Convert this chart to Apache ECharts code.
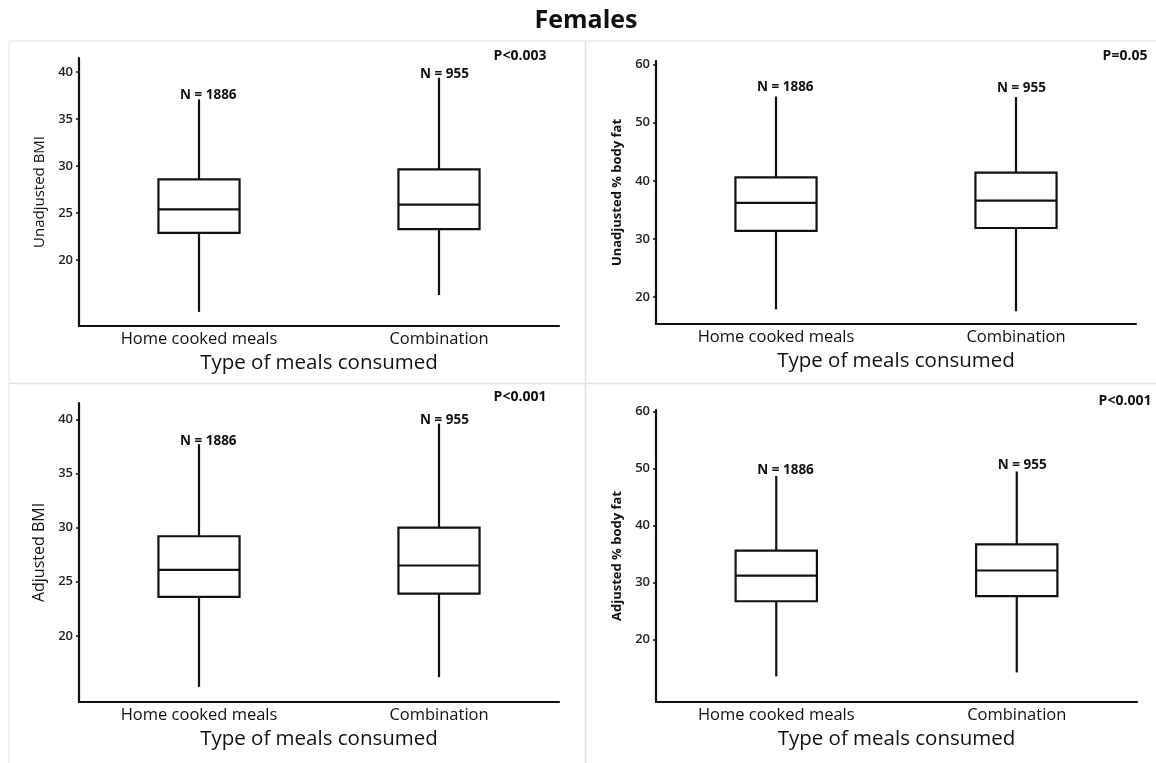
<!DOCTYPE html>
<html>
<head>
<meta charset="utf-8">
<script src="https://cdn.jsdelivr.net/npm/echarts@6/dist/echarts.min.js"></script>
<style>
html,body{margin:0;padding:0;background:#fff;}
#chart{width:1156px;height:763px;}
</style>
</head>
<body>
<div id="chart"></div>
<script>
// ---------- data ----------
const chartTitle = 'Females';
const categories = ['Home cooked meals', 'Combination'];
const xAxisName = 'Type of meals consumed';
const yNames = ['Unadjusted BMI', 'Unadjusted % body fat', 'Adjusted BMI', 'Adjusted % body fat'];
const pValues = ['P<0.003', 'P=0.05', 'P<0.001', 'P<0.001'];
const nLabels = ['N = 1886', 'N = 955'];
const bmiTicks = [20, 25, 30, 35, 40];
const fatTicks = [20, 30, 40, 50, 60];
// [min, Q1, median, Q3, max]
const unadjBmiHome = [14.5, 22.9, 25.4, 28.6, 37.1];
const unadjBmiComb = [16.3, 23.3, 25.9, 29.65, 39.4];
const unadjFatHome = [17.9, 31.4, 36.2, 40.6, 54.5];
const unadjFatComb = [17.6, 31.9, 36.6, 41.4, 54.4];
const adjBmiHome = [15.3, 23.6, 26.1, 29.2, 37.7];
const adjBmiComb = [16.2, 23.9, 26.5, 30.0, 39.6];
const adjFatHome = [13.5, 26.7, 31.2, 35.6, 48.7];
const adjFatComb = [14.2, 27.6, 32.1, 36.7, 49.5];

// ---------- layout / style ----------
const FONT = '"Open Sans", "DejaVu Sans", sans-serif';
const INK = '#111';
const panels = [
  { grid: {left: 79, top: 58, width: 480, height: 268}, min: 13.0, max: 41.5, ticks: bmiTicks,
    stats: [unadjBmiHome, unadjBmiComb], yName: yNames[0], nameBold: false, nameSize: 15, nameGap: 32,
    p: pValues[0], px: 520, py: 56, nDy: 4 },
  { grid: {left: 656, top: 61, width: 480, height: 263}, min: 15.4, max: 60.6, ticks: fatTicks,
    stats: [unadjFatHome, unadjFatComb], yName: yNames[1], nameBold: true, nameSize: 13, nameGap: 32,
    p: pValues[1], px: 1125, py: 56, nDy: 9 },
  { grid: {left: 79, top: 403, width: 480, height: 299}, min: 13.9, max: 41.5, ticks: bmiTicks,
    stats: [adjBmiHome, adjBmiComb], yName: yNames[2], nameBold: false, nameSize: 16, nameGap: 32,
    p: pValues[2], px: 520, py: 397, nDy: 3 },
  { grid: {left: 656, top: 410, width: 481, height: 292}, min: 9.0, max: 60.3, ticks: fatTicks,
    stats: [adjFatHome, adjFatComb], yName: yNames[3], nameBold: true, nameSize: 13, nameGap: 32,
    p: pValues[3], px: 1125, py: 401, nDy: 6 }
];

function makeRender(nDy) {
  return function (params, api) {
    const ci = api.value(0);
    const x = api.coord([ci, api.value(3)])[0];
    const yMin = api.coord([ci, api.value(1)])[1];
    const yQ1 = api.coord([ci, api.value(2)])[1];
    const yMed = api.coord([ci, api.value(3)])[1];
    const yQ3 = api.coord([ci, api.value(4)])[1];
    const yMax = api.coord([ci, api.value(5)])[1];
    const band = api.size([1, 0])[0];
    const hw = band * 0.338 / 2;
    const ls = {stroke: INK, lineWidth: 2.2};
    return {
      type: 'group',
      children: [
        {type: 'line', shape: {x1: x, y1: yQ3, x2: x, y2: yMax}, style: ls},
        {type: 'line', shape: {x1: x, y1: yQ1, x2: x, y2: yMin}, style: ls},
        {type: 'rect', shape: {x: x - hw, y: yQ3, width: hw * 2, height: yQ1 - yQ3},
          style: {fill: '#fff', stroke: INK, lineWidth: 2.2}},
        {type: 'line', shape: {x1: x - hw, y1: yMed, x2: x + hw, y2: yMed}, style: ls},
        {type: 'text', style: {text: nLabels[ci], x: x - 19, y: yMax - nDy,
          align: 'left', verticalAlign: 'middle', font: 'bold 13.5px ' + FONT, fill: INK}}
      ]
    };
  };
}

const grids = [], xAxes = [], yAxes = [], series = [], graphics = [];
panels.forEach((p, i) => {
  grids.push(Object.assign({}, p.grid));
  xAxes.push({
    type: 'category', gridIndex: i, data: categories, boundaryGap: true,
    name: xAxisName, nameLocation: 'middle', nameGap: 27,
    nameTextStyle: {fontFamily: FONT, fontSize: 20.5, fontWeight: 500, color: INK},
    axisLine: {lineStyle: {color: INK, width: 2.2}},
    axisTick: {alignWithLabel: true, length: 4, lineStyle: {color: INK, width: 1.5}},
    axisLabel: {fontFamily: FONT, fontSize: 16.5, fontWeight: 500, color: INK, margin: 5},
    splitLine: {show: false}
  });
  yAxes.push({
    type: 'value', gridIndex: i, min: p.min, max: p.max,
    name: p.yName, nameLocation: 'middle', nameGap: p.nameGap, nameRotate: 90,
    nameTextStyle: {fontFamily: FONT, fontSize: p.nameSize, fontWeight: p.nameBold ? 'bold' : 500, color: INK},
    axisLine: {show: true, lineStyle: {color: INK, width: 2.2}},
    axisTick: {show: true, length: 3, customValues: p.ticks, lineStyle: {color: INK, width: 1.5}},
    axisLabel: {customValues: p.ticks, fontFamily: FONT, fontSize: 13, fontWeight: 600, color: '#222', margin: 6},
    splitLine: {show: false}
  });
  series.push({
    type: 'custom', xAxisIndex: i, yAxisIndex: i,
    renderItem: makeRender(p.nDy),
    encode: {x: 0, y: [1, 2, 3, 4, 5]},
    data: p.stats.map((s, ci) => [ci].concat(s)),
    silent: true
  });
  graphics.push({type: 'text', x: p.px, y: p.py,
    style: {text: p.p, font: 'bold 14px ' + FONT, fill: INK, align: 'center', verticalAlign: 'middle'}});
});

// title
graphics.push({type: 'text', x: 586, y: 21,
  style: {text: chartTitle, font: 'bold 25px ' + FONT, fill: INK, align: 'center', verticalAlign: 'middle'}});

// panel frame lines
const frame = '#e2e2e2';
graphics.push({type: 'line', shape: {x1: 9, y1: 41, x2: 1156, y2: 41}, style: {stroke: frame, lineWidth: 1}, z: -1});
graphics.push({type: 'line', shape: {x1: 9, y1: 383.5, x2: 1156, y2: 383.5}, style: {stroke: frame, lineWidth: 1.5}, z: -1});
graphics.push({type: 'line', shape: {x1: 9, y1: 41, x2: 9, y2: 763}, style: {stroke: frame, lineWidth: 1}, z: -1});
graphics.push({type: 'line', shape: {x1: 585.5, y1: 41, x2: 585.5, y2: 763}, style: {stroke: frame, lineWidth: 1.5}, z: -1});

const chart = echarts.init(document.getElementById('chart'), null, {renderer: 'canvas'});
chart.setOption({
  backgroundColor: '#fff',
  animation: false,
  grid: grids, xAxis: xAxes, yAxis: yAxes, series: series, graphic: graphics
});
</script>
</body>
</html>
